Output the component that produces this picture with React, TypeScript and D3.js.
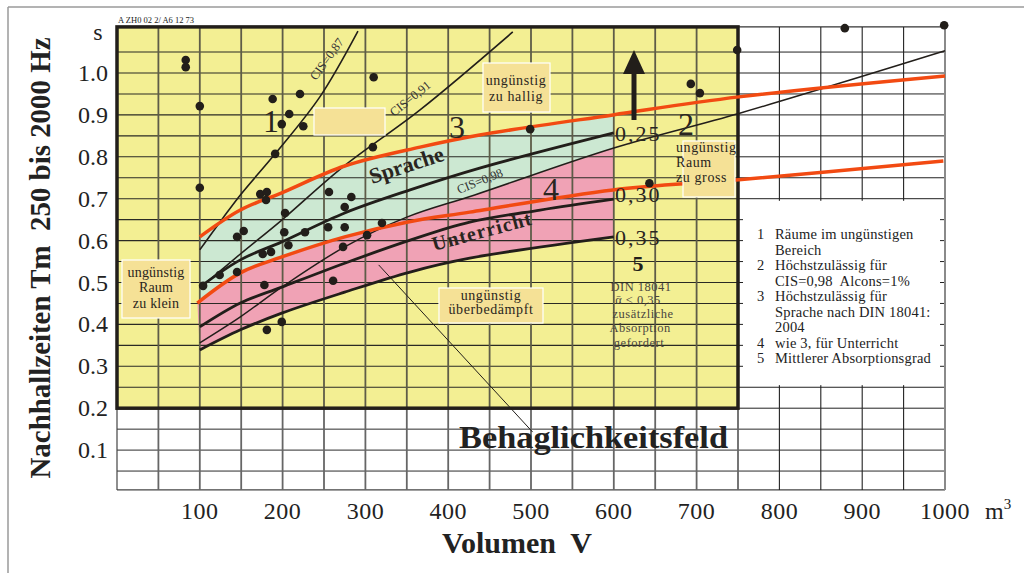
import React from 'react';
import * as d3 from 'd3';

const W = 1024;
const H = 573;

const xTickValues = [100, 200, 300, 400, 500, 600, 700, 800, 900, 1000];
const yTickValues = [0.1, 0.2, 0.3, 0.4, 0.5, 0.6, 0.7, 0.8, 0.9, 1.0];
const yTickLabels = ['0.1', '0.2', '0.3', '0.4', '0.5', '0.6', '0.7', '0.8', '0.9', '1.0'];

// Curves: [Volumen m³, Nachhallzeit s]
const redUpper = [[100, 0.609], [149, 0.673], [199, 0.714], [275, 0.778], [366, 0.823], [438, 0.852], [599, 0.9], [751, 0.943], [1000, 0.993]];
const redLower = [[97, 0.451], [149, 0.523], [199, 0.561], [275, 0.609], [350, 0.644], [426, 0.668], [599, 0.721], [751, 0.745], [998, 0.79]];
const abs25 = [[100, 0.489], [149, 0.554], [199, 0.597], [275, 0.666], [354, 0.721], [438, 0.773], [600, 0.857]];
const abs30 = [[100, 0.394], [149, 0.451], [199, 0.489], [275, 0.546], [354, 0.601], [426, 0.644], [511, 0.673], [600, 0.699]];
const abs35 = [[100, 0.339], [149, 0.387], [199, 0.427], [275, 0.477], [354, 0.525], [426, 0.558], [600, 0.609]];
const cis98 = [[100, 0.356], [149, 0.418], [199, 0.489], [275, 0.585], [350, 0.656], [432, 0.709], [600, 0.821], [752, 0.904], [1000, 1.053]];
const cis87 = [[100, 0.578], [128, 0.654], [149, 0.709], [191, 0.807], [245, 0.943], [291, 1.1]];
const cis91 = [[100, 0.487], [149, 0.568], [199, 0.649], [273, 0.776], [366, 0.912], [478, 1.098]];
const pointer = [[316, 0.542], [502, 0.143]];

const dots = [
  [83, 1.031], [83, 1.014], [100, 0.921], [100, 0.726], [188, 0.938], [221, 0.95], [208, 0.902], [199, 0.878],
  [225, 0.873], [191, 0.807], [310, 0.99], [309, 0.823], [173, 0.711], [181, 0.716], [180, 0.697], [203, 0.666],
  [256, 0.716], [283, 0.704], [275, 0.68], [145, 0.609], [153, 0.623], [202, 0.62], [227, 0.62], [255, 0.632],
  [275, 0.632], [176, 0.568], [186, 0.573], [207, 0.589], [273, 0.585], [124, 0.518], [145, 0.525], [104, 0.492],
  [178, 0.494], [261, 0.504], [199, 0.406], [181, 0.387], [302, 0.613], [320, 0.642], [499, 0.866], [643, 0.737],
  [693, 0.974], [704, 0.952], [749, 1.055], [879, 1.107], [999, 1.114],
];

const legendLines = [
  ['1', 'Räume im ungünstigen'],
  ['', 'Bereich'],
  ['2', 'Höchstzulässig für'],
  ['', 'CIS=0,98  Alcons=1%'],
  ['3', 'Höchstzulässig für'],
  ['', 'Sprache nach DIN 18041:'],
  ['', '2004'],
  ['4', 'wie 3, für Unterricht'],
  ['5', 'Mittlerer Absorptionsgrad'],
];

const SERIF = '"Liberation Serif", "Times New Roman", serif';
const YELLOW = '#f3ef93';
const GREEN = '#cce8d2';
const PINK = '#f0a2b5';
const RED = '#f24a12';
const INK = '#221e1a';
const BEIGE = '#f5e196';

export default function App() {
  const x = d3.scaleLinear().domain([0, 1000]).range([117, 945]);
  const y = d3.scaleLinear().domain([0, 1]).range([492, 73]);
  const line = d3
    .line<number[]>()
    .x((d) => x(d[0]))
    .y((d) => y(d[1]))
    .curve(d3.curveCatmullRom.alpha(0.5));
  const band = (top: number[][], bottom: number[][]) => {
    const a = line(top) as string;
    const b = line(bottom.slice().reverse()) as string;
    return a + 'L' + b.slice(1) + 'Z';
  };
  const upTo600 = (arr: number[][]) => arr.filter((d) => d[0] <= 600);

  const T_TOP = 1.11;
  const T_BOT = 0.005;
  const hGridYellow = d3.range(0.25, 1.051, 0.05);
  const vGridYellow = d3.range(50, 701, 50);
  const hGridBottom = [0.05, 0.1, 0.15];
  const vGridAll = d3.range(50, 951, 50);
  const hGridRight = d3.range(0.25, 1.051, 0.05);
  const vGridRight = [800, 850, 900, 950];

  return (
    <svg width={W} height={H} style={{ position: 'absolute', left: 0, top: 0, background: '#fff' }} fontFamily={SERIF}>
      {/* outer frame */}
      <line x1={8} y1={7} x2={W} y2={7} stroke="#9a9a9a" strokeWidth={1.5} />
      <line x1={8} y1={7} x2={8} y2={H} stroke="#9a9a9a" strokeWidth={1.5} />

      {/* yellow field */}
      <rect x={x(0)} y={y(T_TOP)} width={x(750) - x(0)} height={y(0.2) - y(T_TOP)} fill={YELLOW} />

      {/* bands */}
      <path d={band(upTo600(redUpper), abs35)} fill={GREEN} />
      <path d={band(upTo600(redLower), abs35)} fill={PINK} />
      <path d={band(upTo600(cis98), abs35)} fill={PINK} />

      {/* grid yellow area */}
      {hGridYellow.map((t) => (
        <line key={'hy' + t} x1={x(0)} x2={x(750)} y1={y(t)} y2={y(t)} stroke="#2a2a24" strokeWidth={1.1} />
      ))}
      {vGridYellow.map((v) => (
        <line key={'vy' + v} x1={x(v)} x2={x(v)} y1={y(T_TOP)} y2={y(0.2)} stroke="#5e5c48" strokeWidth={1.8} />
      ))}

      {/* bottom grid */}
      {hGridBottom.map((t) => (
        <line key={'hb' + t} x1={x(0)} x2={x(1000)} y1={y(t)} y2={y(t)} stroke="#2a2a2a" strokeWidth={1} />
      ))}
      <line x1={x(0)} x2={x(1000)} y1={y(T_BOT)} y2={y(T_BOT)} stroke="#444" strokeWidth={1.2} />
      {vGridAll.map((v) => (
        <line key={'vb' + v} x1={x(v)} x2={x(v)} y1={y(0.2)} y2={y(T_BOT)} stroke={v > 750 ? '#222' : '#666'} strokeWidth={v > 750 ? 1.1 : 1.8} />
      ))}
      <line x1={x(0)} x2={x(0)} y1={y(0.2)} y2={y(T_BOT)} stroke="#444" strokeWidth={1.2} />

      {/* right grid */}
      {hGridRight.map((t) => (
        <line key={'hr' + t} x1={x(750)} x2={x(1000)} y1={y(t)} y2={y(t)} stroke="#222" strokeWidth={1} />
      ))}
      <line x1={x(750)} x2={x(1000)} y1={y(T_TOP)} y2={y(T_TOP)} stroke="#333" strokeWidth={1.2} />
      <line x1={x(750)} x2={x(1000)} y1={y(0.2)} y2={y(0.2)} stroke="#222" strokeWidth={1} />
      {vGridRight.map((v) => (
        <line key={'vr' + v} x1={x(v)} x2={x(v)} y1={y(T_TOP)} y2={y(0.2)} stroke="#222" strokeWidth={1.1} />
      ))}
      <line x1={x(1000)} x2={x(1000)} y1={y(T_TOP)} y2={y(T_BOT)} stroke="#8a8a8a" strokeWidth={2} />

      {/* legend blank area */}
      <rect x={x(750) + 5} y={y(0.695)} width={x(1000) - x(750) - 10} height={y(0.255) - y(0.695)} fill="#fff" />

      {/* yellow box border */}
      <rect x={x(0)} y={y(T_TOP)} width={x(750) - x(0)} height={y(0.2) - y(T_TOP)} fill="none" stroke={INK} strokeWidth={3.5} />

      {/* CIS lines */}
      <path d={line(cis87) as string} fill="none" stroke={INK} strokeWidth={1.6} />
      <path d={line(cis91) as string} fill="none" stroke={INK} strokeWidth={1.6} />
      <path d={line(cis98) as string} fill="none" stroke={INK} strokeWidth={1.5} />

      {/* absorption curves */}
      <path d={line(abs25) as string} fill="none" stroke={INK} strokeWidth={2.8} />
      <path d={line(abs30) as string} fill="none" stroke={INK} strokeWidth={2.8} />
      <path d={line(abs35) as string} fill="none" stroke={INK} strokeWidth={2.8} />

      {/* red limit curves */}
      <path d={line(redUpper) as string} fill="none" stroke={RED} strokeWidth={3.5} />
      <path d={line(redLower) as string} fill="none" stroke={RED} strokeWidth={3.5} />

      {/* pointer line */}
      <path d={line(pointer) as string} fill="none" stroke={INK} strokeWidth={1} />

      {/* dots */}
      {dots.map((d, i) => (
        <circle key={'d' + i} cx={x(d[0])} cy={y(d[1])} r={4.3} fill={INK} />
      ))}

      {/* arrow */}
      <line x1={634} x2={634} y1={120} y2={68} stroke={INK} strokeWidth={5} />
      <path d="M634,50 L645,74 L623,74 Z" fill={INK} />

      {/* beige boxes */}
      <rect x={483} y={63} width={67} height={49} fill={BEIGE} stroke="#fff" strokeWidth={1.2} />
      <rect x={314} y={108} width={71} height={27} fill={BEIGE} stroke="#fff" strokeWidth={1.2} />
      <rect x={122} y={260} width={68} height={58} fill={BEIGE} stroke="#fff" strokeWidth={1.2} />
      <rect x={683} y={141} width={52} height={56} fill={BEIGE} stroke="#fff" strokeWidth={1.2} />
      <rect x={439} y={288} width={104} height={35} fill={BEIGE} stroke="#fff" strokeWidth={1.2} />

      <g fontSize={14} fill="#2a2520" letterSpacing={0.6}>
        <text x={516} y={85} textAnchor="middle">ungünstig</text>
        <text x={516} y={101} textAnchor="middle">zu hallig</text>
        <text x={156} y={277} textAnchor="middle" letterSpacing={0.2}>ungünstig</text>
        <text x={156} y={292} textAnchor="middle" letterSpacing={0.2}>Raum</text>
        <text x={156} y={308} textAnchor="middle" letterSpacing={0.2}>zu klein</text>
        <text x={676} y={152}>ungünstig</text>
        <text x={676} y={167}>Raum</text>
        <text x={676} y={182}>zu gross</text>
        <text x={491} y={300} textAnchor="middle">ungünstig</text>
        <text x={491} y={314} textAnchor="middle">überbedämpft</text>
      </g>

      {/* DIN note */}
      <g fontSize={12.5} fill="#4a4640" textAnchor="middle" letterSpacing={0.5}>
        <text x={641} y={291}>DIN 18041</text>
        <text x={638} y={304}>ᾱ &lt; 0,35</text>
        <text x={643} y={318}>zusätzliche</text>
        <text x={640} y={332}>Absorption</text>
        <text x={639} y={347}>gefordert</text>
      </g>
      <text x={638} y={271} fontSize={22} fontWeight="bold" textAnchor="middle" fill={INK}>5</text>

      {/* curve labels */}
      <g fontSize={22} fill="#2a2520" letterSpacing={2}>
        <text x={615} y={141}>0,25</text>
        <text x={615} y={202}>0,30</text>
        <text x={615} y={245}>0,35</text>
      </g>
      <g fontSize={32} fill="#2a2520">
        <text x={263} y={132}>1</text>
        <text x={678} y={135}>2</text>
        <text x={449} y={138}>3</text>
        <text x={543} y={200}>4</text>
      </g>
      <text x={372} y={184} fontSize={22} fontWeight="bold" fill="#2a2520" transform="rotate(-18 372 184)">Sprache</text>
      <text x={434} y={251} fontSize={20} fontWeight="bold" fill="#2a2520" letterSpacing={1.2} transform="rotate(-15 434 251)">Unterricht</text>
      <g fontSize={12.5} fill="#333">
        <text x={316} y={81} transform="rotate(-54 316 81)">CIS=0,87</text>
        <text x={394} y={117} transform="rotate(-39 394 117)">CIS=0,91</text>
        <text x={459} y={194} transform="rotate(-22 459 194)">CIS=0,98</text>
      </g>

      {/* header code */}
      <text x={118} y={23} fontSize={8.5} fill="#222" style={{ whiteSpace: 'pre' }}>A ZH0 02 2/ A6 12 73</text>

      {/* y axis */}
      <text x={98} y={40} fontSize={24} fill="#222" textAnchor="middle">s</text>
      {yTickValues.map((t, i) => (
        <text key={'yt' + t} x={108} y={y(t) + 8} fontSize={24} fill="#222" textAnchor="end">{yTickLabels[i]}</text>
      ))}
      <text
        x={0}
        y={0}
        fontSize={30}
        fontWeight="bold"
        fill="#222"
        textAnchor="middle"
        textLength={441}
        lengthAdjust="spacingAndGlyphs"
        style={{ whiteSpace: 'pre' }}
        transform="translate(50 258) rotate(-90)"
      >
        Nachhallzeiten Tm  250 bis 2000 Hz
      </text>

      {/* x axis */}
      {xTickValues.map((v) => (
        <text key={'xt' + v} x={x(v)} y={519} fontSize={24} fill="#222" textAnchor="middle" letterSpacing={0.5}>{v}</text>
      ))}
      <text x={985} y={519} fontSize={24} fill="#222">
        m<tspan fontSize={15} dy={-10}>3</tspan>
      </text>
      <text x={517} y={553} fontSize={30} fontWeight="bold" fill="#222" textAnchor="middle" style={{ whiteSpace: 'pre' }}>Volumen  V</text>
      <text x={459} y={448} fontSize={31} fontWeight="bold" fill="#222" textLength={269} lengthAdjust="spacingAndGlyphs">Behaglichkeitsfeld</text>

      {/* legend */}
      <g fontSize={14.5} fill="#222">
        {legendLines.map((l, i) => (
          <g key={'lg' + i}>
            <text x={757} y={239 + i * 15.5}>{l[0]}</text>
            <text x={775} y={239 + i * 15.5} style={{ whiteSpace: 'pre' }} letterSpacing={0.2}>{l[1]}</text>
          </g>
        ))}
      </g>
    </svg>
  );
}
